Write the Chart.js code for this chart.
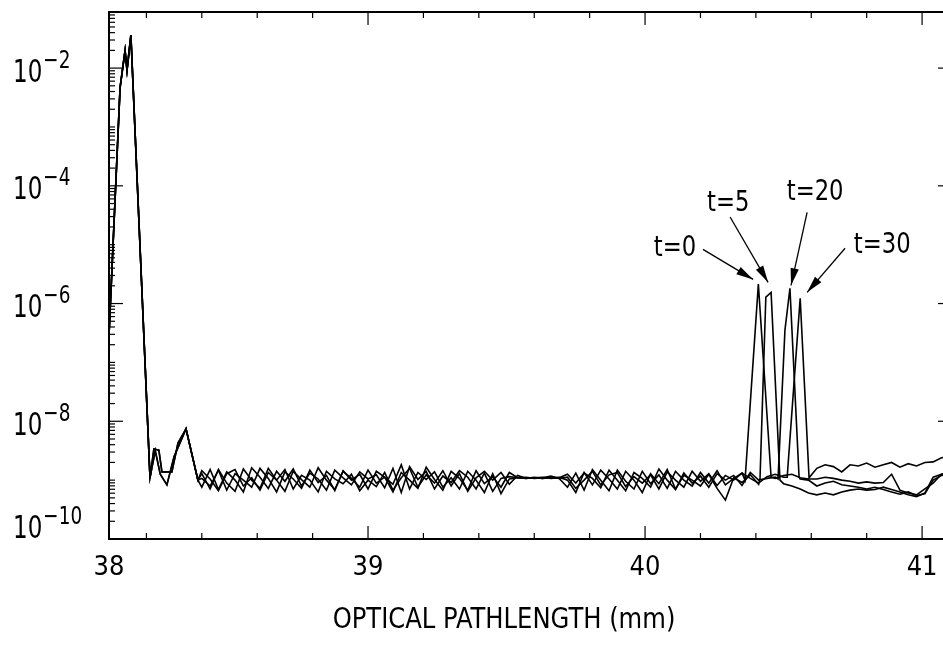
<!DOCTYPE html>
<html><head><meta charset="utf-8">
<script src="https://cdn.jsdelivr.net/npm/chart.js@4.4.0/dist/chart.umd.min.js"></script>
<style>
html,body{margin:0;padding:0;background:#fff;overflow:hidden;}
#wrap{position:relative;width:960px;height:645px;}
</style></head><body>
<div id="wrap"><canvas id="c"></canvas></div>
<script>
const FONT = '"Liberation Sans Narrow","DejaVu Sans Condensed","Liberation Sans",sans-serif';

// ---- data ----
const seriesLabels = ['t=0', 't=5', 't=20', 't=30'];
const xTickValues = [38, 39, 40, 41];
const yTickExps = [-2, -4, -6, -8, -10];
const xTitle = 'OPTICAL PATHLENGTH (mm)';

// left peak region (log10 values)
const headXA   = [38.065, 38.105, 38.123, 38.130, 38.144, 38.213, 38.227, 38.245, 38.256, 38.292, 38.314, 38.343, 38.386];
const headLogA = [-6.54, -2.33, -1.70, -2.04, -1.44, -8.96, -8.47, -8.49, -8.86, -8.86, -8.37, -8.13, -9.00];
const headXB   = [38.065, 38.105, 38.123, 38.130, 38.144, 38.213, 38.232, 38.250, 38.274, 38.300, 38.343, 38.386];
const headLogB = [-6.54, -2.33, -1.70, -2.04, -1.44, -8.96, -8.50, -8.90, -9.08, -8.60, -8.13, -9.00];

// noise floor positions (mm)
const xGrid = [
 38.40,38.43,38.46,38.49,38.52,38.55,38.58,38.61,38.64,38.67,
 38.70,38.73,38.76,38.79,38.82,38.85,38.88,38.91,38.94,38.97,
 39.00,39.03,39.06,39.09,39.12,39.15,39.18,39.21,39.24,39.27,
 39.30,39.33,39.36,39.39,39.42,39.45,39.48,39.51,39.54,39.57,
 39.60,39.63,39.66,39.69,39.72,39.75,39.78,39.81,39.84,39.87,
 39.90,39.93,39.96,39.99,40.02,40.05,40.08,40.11,40.14,40.17,
 40.20,40.23,40.26,40.29,40.32,40.35,40.38,40.41,40.44,40.47,
 40.50,40.53,40.56,40.59,40.62,40.65,40.68,40.71,40.74,40.77,
 40.80,40.83,40.86,40.89,40.92,40.95,40.98,41.01,41.04,41.07,
 41.10];

// noise floor log10 values per series
const t0Noise = [
 -9.12,-8.82,-9.16,-8.86,-9.00,-9.20,-8.79,-8.95,-9.14,-8.85,
 -9.02,-8.81,-9.10,-8.88,-8.98,-9.17,-8.83,-8.96,-9.08,-8.86,
 -8.98,-8.91,-9.13,-8.80,-9.21,-8.77,-8.99,-8.85,-9.15,-8.93,
 -9.04,-8.84,-8.95,-9.15,-8.88,-9.19,-8.97,-8.94,-8.96,-8.95,
 -8.97,-8.96,-8.93,-8.97,-9.12,-8.88,-9.17,-8.82,-9.00,-9.18,
 -8.83,-9.02,-9.15,-8.85,-9.06,-8.91,-9.14,-8.85,-9.00,-9.10,
 -8.87,-9.05,-8.84,-9.08,-8.97,-8.88,-9.02,-8.96,-9.00,-8.97,
 -8.92,-8.90,-8.96,-8.98,-8.98,-8.95,-8.97,-9.00,-9.02,-9.05,
 -9.03,-9.05,-9.04,-8.90,-9.17,-9.22,-9.25,-9.15,-9.05,-8.90,
 -8.88];
const t5Noise = [
 -8.89,-9.15,-8.82,-9.05,-9.19,-8.81,-9.00,-9.14,-8.80,-9.00,
 -9.19,-8.85,-8.99,-9.12,-8.79,-9.00,-9.16,-8.85,-8.97,-9.12,
 -8.83,-9.05,-8.95,-9.20,-8.87,-9.00,-9.14,-8.78,-8.99,-9.17,
 -8.85,-8.97,-9.17,-8.84,-9.06,-8.94,-9.12,-8.87,-8.96,-8.97,
 -8.95,-8.97,-8.96,-8.95,-9.00,-9.21,-8.87,-9.08,-8.83,-8.98,
 -9.15,-8.85,-9.00,-9.21,-8.89,-9.06,-8.82,-9.15,-8.92,-9.00,
 -9.10,-8.90,-9.14,-9.34,-8.96,-9.04,-8.91,-9.07,-8.99,-9.04,
 -9.06,-9.10,-9.15,-9.22,-9.25,-9.22,-9.25,-9.20,-9.17,-9.15,
 -9.17,-9.16,-9.12,-9.16,-9.20,-9.25,-9.28,-9.22,-8.95,-8.90,
 -8.88];
const t20Noise = [
 -8.97,-9.10,-8.83,-9.17,-8.89,-9.00,-9.12,-8.80,-8.97,-9.20,
 -8.86,-8.98,-9.14,-8.83,-9.04,-8.92,-9.18,-8.84,-9.00,-8.90,
 -9.15,-8.85,-8.95,-9.07,-8.74,-9.15,-8.87,-8.99,-8.86,-9.12,
 -8.96,-9.15,-8.85,-9.00,-9.21,-8.89,-9.23,-8.98,-8.96,-8.96,
 -8.96,-8.95,-8.97,-8.96,-8.90,-9.05,-8.88,-8.97,-9.13,-8.83,
 -9.00,-9.18,-8.87,-8.97,-9.12,-8.81,-9.00,-9.16,-8.88,-9.05,
 -8.93,-9.12,-8.89,-9.00,-8.92,-9.09,-8.87,-9.00,-8.97,-8.95,
 -8.96,-8.94,-8.98,-9.00,-9.10,-9.05,-9.02,-9.08,-9.10,-9.12,
 -9.15,-9.12,-9.16,-9.20,-9.24,-9.20,-9.26,-9.23,-9.00,-8.92,
 -8.90];
const t30Noise = [
 -8.84,-8.98,-9.18,-8.89,-8.82,-9.10,-8.96,-9.17,-8.87,-9.00,
 -8.82,-9.15,-8.92,-9.00,-9.20,-8.85,-8.98,-9.06,-8.90,-9.18,
 -9.00,-9.11,-8.87,-9.17,-8.96,-8.80,-9.12,-8.91,-9.05,-8.84,
 -9.10,-8.89,-9.19,-8.96,-8.85,-9.00,-8.87,-9.07,-8.92,-8.97,
 -8.96,-8.97,-8.95,-8.97,-8.95,-9.14,-9.00,-8.85,-9.08,-8.91,
 -8.87,-9.11,-8.94,-9.05,-8.91,-9.15,-8.86,-9.00,-9.12,-8.85,
 -9.02,-8.89,-9.09,-8.92,-9.00,-8.88,-8.97,-9.05,-8.94,-8.90,
 -8.95,-8.92,-8.90,-8.94,-8.80,-8.74,-8.77,-8.86,-8.74,-8.76,
 -8.71,-8.78,-8.74,-8.70,-8.78,-8.72,-8.76,-8.70,-8.69,-8.62,
 -8.60];

// shifted peaks near 40.4-40.6 mm
const t0PeakX = [40.361, 40.409, 40.455];
const t0PeakLog = [-9.00, -5.67, -8.95];
const t5PeakX = [40.415, 40.436, 40.455, 40.487];
const t5PeakLog = [-8.97, -5.89, -5.81, -9.00];
const t20PeakX = [40.480, 40.505, 40.523, 40.556];
const t20PeakLog = [-8.98, -6.45, -5.74, -8.95];
const t30PeakX = [40.513, 40.560, 40.592];
const t30PeakLog = [-8.95, -5.91, -8.96];

// annotation labels and arrows (data units: mm, log10)
const annLabels  = ['t=0', 't=5', 't=20', 't=30'];
const annTextX   = [40.108, 40.300, 40.614, 40.856];
const annTextLog = [-5.06, -4.30, -4.11, -5.01];
const annFromX   = [40.209, 40.307, 40.585, 40.722];
const annFromLog = [-5.08, -4.53, -4.45, -5.06];
const annToX     = [40.390, 40.444, 40.527, 40.585];
const annToLog   = [-5.59, -5.64, -5.69, -5.81];

// ---- build ----
function buildSeries(hx, hl, noise, px, pl) {
  const pts = [];
  hx.forEach((x, i) => pts.push({x: x, y: Math.pow(10, hl[i])}));
  const lo = px[0], hi = px[px.length - 1];
  xGrid.forEach((x, i) => { if (x < lo || x > hi) pts.push({x: x, y: Math.pow(10, noise[i])}); });
  px.forEach((x, i) => pts.push({x: x, y: Math.pow(10, pl[i])}));
  pts.sort((a, b) => a.x - b.x);
  return pts;
}
const seriesData = [
  buildSeries(headXA, headLogA, t0Noise, t0PeakX, t0PeakLog),
  buildSeries(headXA, headLogA, t5Noise, t5PeakX, t5PeakLog),
  buildSeries(headXB, headLogB, t20Noise, t20PeakX, t20PeakLog),
  buildSeries(headXB, headLogB, t30Noise, t30PeakX, t30PeakLog)
];

function seg(ctx, x0, y0, x1, y1) { ctx.beginPath(); ctx.moveTo(x0, y0); ctx.lineTo(x1, y1); ctx.stroke(); }
function narrowText(ctx, txt, x, y, size, sx, align, baseline) {
  ctx.save();
  ctx.font = size + 'px ' + FONT;
  ctx.textAlign = align; ctx.textBaseline = baseline;
  ctx.translate(x, y); ctx.scale(sx, 1);
  ctx.fillText(txt, 0, 0);
  const w = ctx.measureText(txt).width * sx;
  ctx.restore();
  return w;
}

const framePlugin = {
  id: 'frame',
  afterDatasetsDraw(chart) {
    const ctx = chart.ctx, a = chart.chartArea, x = chart.scales.x, y = chart.scales.y;
    ctx.save();
    ctx.strokeStyle = '#000'; ctx.fillStyle = '#000';
    ctx.lineWidth = 2;
    ctx.strokeRect(a.left, a.top, a.right - a.left, a.bottom - a.top);
    ctx.lineWidth = 1.2;
    // log ticks on left and right
    const dmin = Math.floor(Math.log10(y.min)), dmax = Math.ceil(Math.log10(y.max));
    for (let d = dmin; d <= dmax; d++) {
      for (let m = 1; m <= 9; m++) {
        const v = m * Math.pow(10, d);
        if (v < y.min * 0.999 || v > y.max) continue;
        const py = y.getPixelForValue(v);
        const len = (m === 1 && yTickExps.indexOf(d) >= 0) ? 14 : 6;
        seg(ctx, a.left, py, a.left + len, py);
        seg(ctx, a.right, py, a.right - len, py);
      }
    }
    // linear ticks on bottom and top, every 0.2 mm
    for (let k = Math.ceil(x.min * 5); k <= Math.floor(x.max * 5); k++) {
      const px = x.getPixelForValue(k / 5);
      const len = (k % 5 === 0) ? 13 : 6;
      seg(ctx, px, a.bottom, px, a.bottom - len);
      seg(ctx, px, a.top, px, a.top + len);
    }
    // y labels 10^n
    yTickExps.forEach(e => {
      const py = y.getPixelForValue(Math.pow(10, e));
      const base = Math.min(py + 13.5, a.bottom - 1);
      const w = narrowText(ctx, '10', 13, base, 32, 0.8, 'left', 'alphabetic');
      narrowText(ctx, '\u2212' + Math.abs(e), 13 + w + 1, base - 14, 25, 0.82, 'left', 'alphabetic');
    });
    // axis title
    narrowText(ctx, xTitle, 504, 620, 29, 0.93, 'center', 'middle');
    // annotations
    ctx.lineWidth = 1.3;
    annLabels.forEach((lab, i) => {
      const tx = x.getPixelForValue(annTextX[i]), ty = y.getPixelForValue(Math.pow(10, annTextLog[i]));
      narrowText(ctx, lab, tx, ty, 29, 0.87, 'center', 'middle');
      const x0 = x.getPixelForValue(annFromX[i]), y0 = y.getPixelForValue(Math.pow(10, annFromLog[i]));
      const x1 = x.getPixelForValue(annToX[i]), y1 = y.getPixelForValue(Math.pow(10, annToLog[i]));
      seg(ctx, x0, y0, x1, y1);
      const ang = Math.atan2(y1 - y0, x1 - x0), L = 17, W = 4.2;
      const bx = x1 - L * Math.cos(ang), by = y1 - L * Math.sin(ang);
      ctx.beginPath();
      ctx.moveTo(x1, y1);
      ctx.lineTo(bx - W * Math.sin(ang), by + W * Math.cos(ang));
      ctx.lineTo(bx + W * Math.sin(ang), by - W * Math.cos(ang));
      ctx.closePath(); ctx.fill();
    });
    ctx.restore();
  }
};

new Chart(document.getElementById('c').getContext('2d'), {
  type: 'line',
  data: {
    datasets: seriesLabels.map((lab, k) => ({
      label: lab, data: seriesData[k], borderColor: '#000', backgroundColor: '#000',
      borderWidth: 1.6, pointRadius: 0, tension: 0, fill: false
    }))
  },
  options: {
    responsive: true, maintainAspectRatio: false, animation: false,
    layout: {padding: {left: 109, top: 12, right: 8, bottom: 0}},
    plugins: {legend: {display: false}, tooltip: {enabled: false}},
    scales: {
      x: {
        type: 'linear', min: 38.065, max: 41.108,
        grid: {display: false, drawTicks: false}, border: {display: false},
        afterBuildTicks(s) { s.ticks = xTickValues.map(v => ({value: Math.max(v, s.min)})); },
        afterFit(s) { s.height = 106; },
        ticks: {
          color: '#000', font: {family: FONT, size: 27}, padding: 13,
          maxRotation: 0, autoSkip: false,
          callback: (v, i) => String(xTickValues[i])
        },
        title: {display: false, text: xTitle}
      },
      y: {
        type: 'logarithmic', min: 1e-10, max: Math.pow(10, -1.047),
        grid: {display: false, drawTicks: false}, border: {display: false},
        ticks: {display: false}
      }
    }
  },
  plugins: [framePlugin]
});
</script>
</body></html>
